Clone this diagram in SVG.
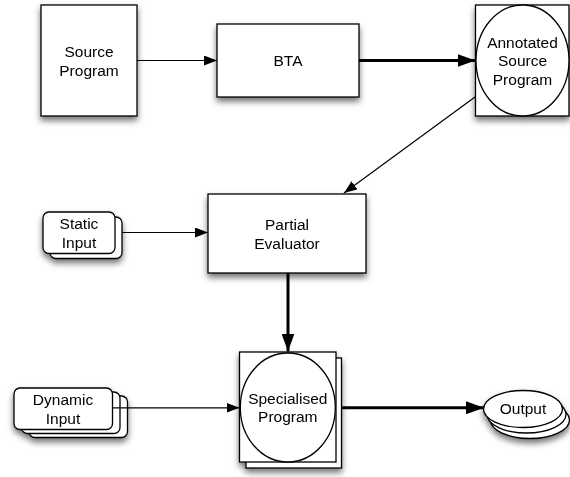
<svg xmlns="http://www.w3.org/2000/svg" width="570" height="477" viewBox="0 0 570 477">
<defs>
<filter id="sh" x="-20%" y="-20%" width="150%" height="150%">
<feDropShadow dx="0" dy="4" stdDeviation="3" flood-color="#000" flood-opacity="0.55"/>
</filter>
<marker id="ah" markerUnits="userSpaceOnUse" markerWidth="13" markerHeight="10" refX="13" refY="5" orient="auto">
<path d="M0,0 L13,5 L0,10 Z" fill="#000"/>
</marker>
<marker id="ahb" markerUnits="userSpaceOnUse" markerWidth="18" markerHeight="13" refX="18" refY="6.5" orient="auto">
<path d="M0,0 L18,6.5 L0,13 Z" fill="#000"/>
</marker>
</defs>
<style>
.b{fill:#fff;stroke:#000;stroke-width:1.3}
.t{font-family:"Liberation Sans",Arial,Helvetica,sans-serif;font-size:15.5px;fill:#000;text-anchor:middle}
.c{fill:none;stroke:#000}
.thin{stroke-width:1.2;marker-end:url(#ah)}
.thick{stroke-width:3;marker-end:url(#ahb)}
</style>
<rect width="570" height="477" fill="#fff"/>
<g id="connectors">
<line class="c thin" x1="137" y1="60.5" x2="217" y2="60.5"/>
<line class="c thick" x1="359" y1="60.5" x2="475.5" y2="60.5"/>
<line class="c thin" x1="475" y1="97" x2="344" y2="193"/>
<line class="c thin" x1="115" y1="232.5" x2="208" y2="232.5"/>
<line class="c thick" x1="288" y1="273" x2="288" y2="351.5"/>
</g>
<g id="source-program" filter="url(#sh)">
<rect class="b" x="41" y="5" width="96" height="111"/>
<text class="t" x="89" y="56.5">Source</text>
<text class="t" x="89" y="75.5">Program</text>
</g>
<g id="bta" filter="url(#sh)">
<rect class="b" x="217" y="24" width="142" height="73"/>
<text class="t" x="288" y="66">BTA</text>
</g>
<g id="annotated-source-program" filter="url(#sh)">
<rect class="b" x="475.5" y="5" width="93.5" height="111"/>
<ellipse class="b" cx="522.5" cy="60.5" rx="46.5" ry="55.5"/>
<text class="t" x="522.5" y="47.5">Annotated</text>
<text class="t" x="522.5" y="66">Source</text>
<text class="t" x="522.5" y="84.5">Program</text>
</g>
<g id="static-input" filter="url(#sh)">
<rect class="b" x="50" y="217" width="72" height="41.5" rx="6"/>
<rect class="b" x="43" y="212" width="72" height="41.5" rx="6"/>
<text class="t" x="79" y="228.5">Static</text>
<text class="t" x="79" y="247.5">Input</text>
</g>
<g id="partial-evaluator" filter="url(#sh)">
<rect class="b" x="208" y="194" width="158" height="79"/>
<text class="t" x="287" y="229.5">Partial</text>
<text class="t" x="287" y="248.5">Evaluator</text>
</g>
<g id="dynamic-input" filter="url(#sh)">
<rect class="b" x="29" y="396" width="98.5" height="41.5" rx="6"/>
<rect class="b" x="21.5" y="392" width="98.5" height="41.5" rx="6"/>
<rect class="b" x="14" y="388" width="98.5" height="41.5" rx="6"/>
<text class="t" x="63" y="404.5">Dynamic</text>
<text class="t" x="63" y="423.5">Input</text>
</g>
<g id="connectors-lower">
<line class="c thin" x1="112.5" y1="407.8" x2="239.5" y2="407.8"/>
<line class="c thick" x1="336" y1="407.8" x2="484" y2="407.8"/>
</g>
<g id="specialised-program" filter="url(#sh)">
<rect class="b" x="246" y="358" width="95.5" height="110"/>
<rect class="b" x="239.5" y="352" width="96.5" height="110"/>
<ellipse class="b" cx="287.8" cy="407.5" rx="47.5" ry="54.5"/>
<text class="t" x="287.8" y="403.5">Specialised</text>
<text class="t" x="287.8" y="422">Program</text>
</g>
<g id="output" filter="url(#sh)">
<ellipse class="b" cx="530" cy="420" rx="39.5" ry="18.5"/>
<ellipse class="b" cx="526.5" cy="414.5" rx="39.5" ry="18.5"/>
<ellipse class="b" cx="523" cy="409" rx="39.5" ry="18.5"/>
<text class="t" x="523" y="413.5">Output</text>
</g>
</svg>
